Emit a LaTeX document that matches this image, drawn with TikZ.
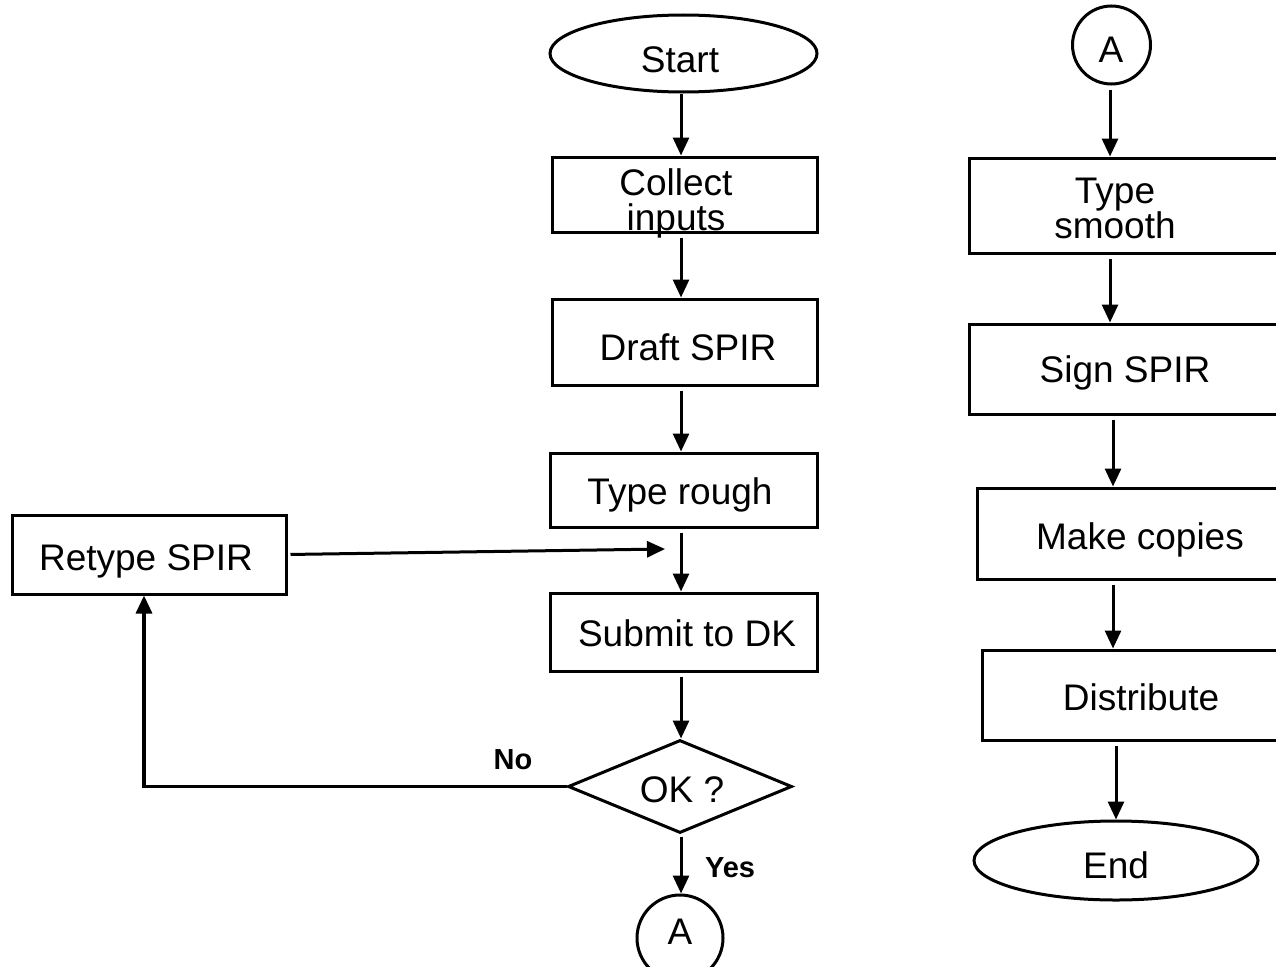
\documentclass[tikz,border=0pt]{standalone}
\usepackage{fontspec}
\setmainfont{Liberation Sans}
\usetikzlibrary{shapes.geometric,arrows.meta}
\begin{document}
\begin{tikzpicture}[x=1pt,y=-1pt,
  outline/.style={draw, line width=3pt, inner sep=0pt},
  procbox/.style={outline, rectangle},
  terminal/.style={outline, ellipse},
  connector/.style={outline, circle},
  decision/.style={outline, diamond},
  lbl/.style={font=\fontsize{37pt}{35pt}\selectfont, inner sep=0pt, anchor=base, align=center},
  branch/.style={font=\fontsize{29pt}{29pt}\selectfont\bfseries, inner sep=0pt, anchor=base},
  flow/.style={draw, line width=3pt, -{Triangle[length=18pt,width=16pt]}, shorten <=4pt},
  loopline/.style={draw, line width=3.3pt, -{Triangle[length=18pt,width=16pt]}}
]
\clip (0,0) rectangle (1276,966);

% left column
\node[terminal, minimum width=267pt, minimum height=77pt] (start) at (683.5,53.5) {};
\node[procbox, minimum width=265pt, minimum height=75pt] (collect) at (684.5,194.5) {};
\node[procbox, minimum width=265pt, minimum height=86pt] (draft) at (684.5,342) {};
\node[procbox, minimum width=267pt, minimum height=74pt] (rough) at (683.5,490) {};
\node[procbox, minimum width=267pt, minimum height=78pt] (submit) at (683.5,632) {};
\node[decision, minimum width=224pt, minimum height=93pt] (ok) at (680,786.5) {};
\node[connector, minimum size=86pt] (connA) at (680,938) {};
\node[procbox, minimum width=274pt, minimum height=79pt] (retype) at (149,554.5) {};

% right column
\node[connector, minimum size=78pt] (connB) at (1111.5,45) {};
\node[procbox, minimum width=331pt, minimum height=95pt] (smooth) at (1134.5,205.5) {};
\node[procbox, minimum width=331pt, minimum height=90pt] (sign) at (1134.5,369) {};
\node[procbox, minimum width=323pt, minimum height=91pt] (copies) at (1138.5,533.5) {};
\node[procbox, minimum width=318pt, minimum height=90pt] (distr) at (1141,695) {};
\node[terminal, minimum width=284pt, minimum height=79pt] (end) at (1116,860.5) {};

% texts (two-line texts sit on the baseline of their last line)
\node[lbl] (tstart) at (680,72) {Start};
\node[lbl] (tcollect) at (676,230) {Collect\\inputs};
\node[lbl] (tdraft) at (688,360) {Draft SPIR};
\node[lbl] (trough) at (680,504) {Type rough};
\node[lbl] (tsubmit) at (687,646) {Submit to DK};
\node[lbl] (tok) at (682,802) {OK ?};
\node[lbl] (tconnA) at (680,944) {A};
\node[lbl] (tretype) at (146,570) {Retype SPIR};
\node[lbl] (tconnB) at (1111,63) {A};
\node[lbl] (tsmooth) at (1115,238) {Type\\smooth};
\node[lbl] (tsign) at (1125,382) {Sign SPIR};
\node[lbl] (tcopies) at (1140,549) {Make copies};
\node[lbl] (tdistr) at (1141,710) {Distribute};
\node[lbl] (tend) at (1116,878) {End};
\node[branch] (tno) at (513,769) {No};
\node[branch] (tyes) at (730,877) {Yes};

% connectors
\coordinate (colL) at (681,0);
\coordinate (colR) at (1110,0);
\coordinate (colS) at (1113,0);
\coordinate (loopx) at (144,0);
\coordinate (join) at (665,549);

\draw[flow, shorten <=0pt] (start.south -| colL) -- (collect.north -| colL);
\draw[flow] (collect.south -| colL) -- (draft.north -| colL);
\draw[flow] (draft.south -| colL) -- (rough.north -| colL);
\draw[flow] (rough.south -| colL) -- (submit.north -| colL);
\draw[flow] (submit.south -| colL) -- (ok.north -| colL);
\draw[flow, shorten <=2pt] (ok.south -| colL) -- (connA.north -| colL);
\draw[flow, shorten <=3pt] (retype.east) -- (join);
\draw[loopline] (ok.west) -| (retype.south -| loopx);

\draw[flow] (connB.south -| colR) -- (smooth.north -| colR);
\draw[flow] (smooth.south -| colR) -- (sign.north -| colR);
\draw[flow] (sign.south -| colS) -- (copies.north -| colS);
\draw[flow] (copies.south -| colS) -- (distr.north -| colS);
\draw[flow] (distr.south -| end.north) -- (end.north);
\end{tikzpicture}
\end{document}
